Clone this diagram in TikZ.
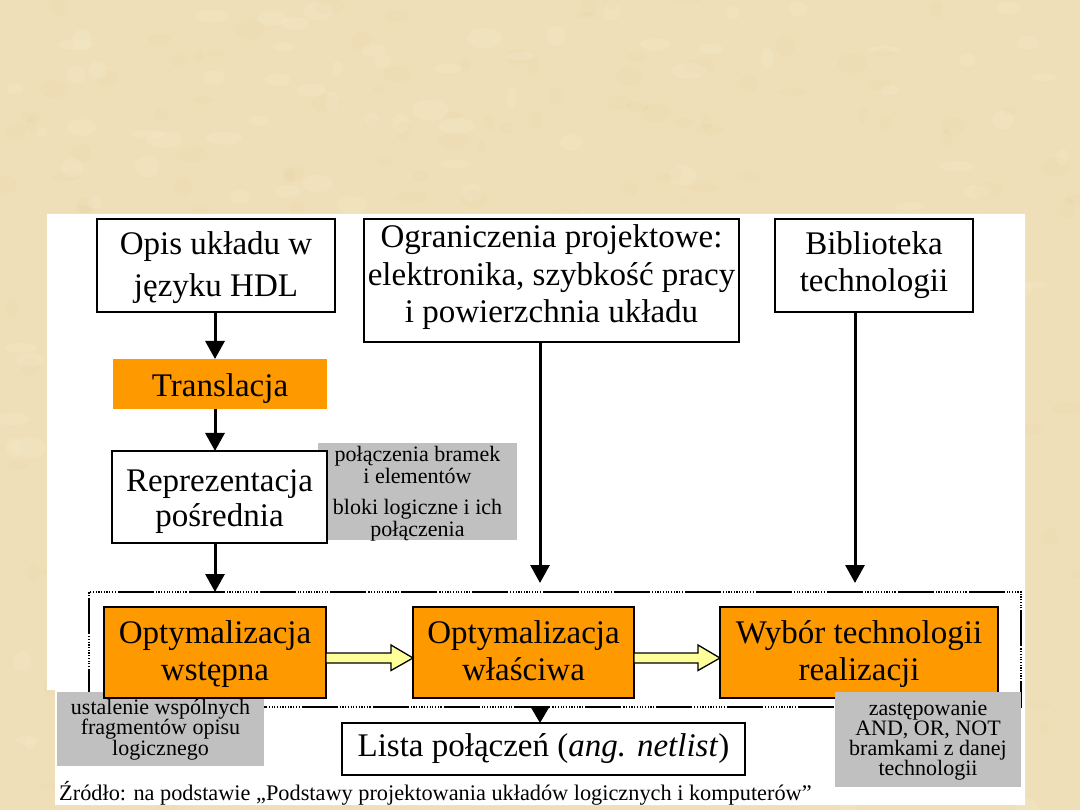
\documentclass[tikz,border=0pt]{standalone}
\usepackage{fontspec}
\setmainfont{Liberation Serif}
\usetikzlibrary{arrows.meta,calc}
\definecolor{parch}{RGB}{239,223,184}
\definecolor{parchd}{RGB}{222,196,145}
\definecolor{parchl}{RGB}{250,241,214}
\definecolor{org}{RGB}{255,153,0}
\definecolor{gr}{RGB}{192,192,192}
\definecolor{yel}{RGB}{255,255,153}
\lineskiplimit=-30pt
\newcommand\mlines[1]{\vtop{\halign{\hfil##\hfil\cr#1\crcr}}}
\begin{document}
\begin{tikzpicture}[x=1pt,y=-1pt,
  box/.style={draw=black,line width=2.8pt,fill=white,inner sep=0pt,outer sep=0pt,text height=0pt,font=\fontsize{33}{37}\selectfont},
  obox/.style={box,fill=org},
  gbox/.style={fill=gr,inner sep=0pt,outer sep=0pt,text height=0pt,font=\fontsize{22}{20}\selectfont},
  arr/.style={line width=3pt,-{Triangle[length=18pt,width=19pt]}},
  arrs/.style={line width=2pt,-{Triangle[length=15pt,width=17pt]}},
  frm/.style={draw=black,line width=2pt,inner sep=0pt,outer sep=0pt,
    dash pattern=on 36pt off 2pt on 1.2pt off 1.5pt on 1.2pt off 1.5pt on 1.2pt off 1.5pt on 1.2pt off 1.5pt on 1.2pt off 1.5pt on 1.2pt off 1.5pt on 1.2pt off 1.5pt on 1.2pt off 1.5pt on 1.2pt off 1.5pt on 1.2pt off 1.5pt on 1.2pt off 1.5pt on 1.2pt off 2pt},
  yarr/.style={draw=black,line width=1.3pt,fill=yel,line join=miter}
]
\useasboundingbox (0,0) rectangle (1080,810);
\fill[parch] (0,0) rectangle (1080,810);
\pgfmathsetseed{7}
\foreach \i in {1,...,260} {
  \fill[parchd,opacity=0.09] (1080*rnd,810*rnd) ellipse ({4+12*rnd} and {3+7*rnd});
}
\foreach \i in {1,...,200} {
  \fill[parchl,opacity=0.18] (1080*rnd,810*rnd) ellipse ({5+14*rnd} and {3+8*rnd});
}
\fill[white] (47,214) -- (1025,214) -- (1025,805) -- (55,805) -- (55,690) -- (47,690) -- cycle;

\coordinate (c1) at (215,0);
\coordinate (c2) at (540,0);
\coordinate (c3) at (855,0);

% top row
\node[box,minimum width=238pt,minimum height=93pt,text depth=21pt,font=\fontsize{33}{42}\selectfont] (opis) at (216,265.5) {\mlines{Opis układu w\cr języku HDL}};
\node[box,minimum width=375pt,minimum height=123pt,text depth=65pt,font=\fontsize{33}{37.5}\selectfont] (ogr) at (551.5,280.5) {\mlines{Ograniczenia projektowe:\cr elektronika, szybkość pracy\cr i powierzchnia układu}};
\node[box,minimum width=198pt,minimum height=93pt,text depth=21pt] (bib) at (874,265.5) {\mlines{Biblioteka\cr technologii}};

\node[fill=org,inner sep=0pt,outer sep=0pt,minimum width=214pt,minimum height=50pt,text height=26pt,text depth=0pt,font=\fontsize{33}{37}\selectfont] (trans) at (220,384) {Translacja};

\node[gbox,minimum width=199pt,minimum height=97pt,text depth=59pt,font=\fontsize{22}{21}\selectfont] (g1) at (417.5,491.5) {\mlines{połączenia bramek\cr i elementów\cr\noalign{\vskip11pt} bloki logiczne i ich\cr połączenia}};
\node[box,minimum width=215pt,minimum height=92pt,text depth=10.6pt,font=\fontsize{33}{35}\selectfont] (rep) at (219.5,497) {\mlines{Reprezentacja\cr pośrednia}};

% frame
\node[frm,minimum width=932pt,minimum height=115pt] (frame) at (555,649.5) {};

\node[gbox,minimum width=207pt,minimum height=74pt,text depth=30pt,font=\fontsize{22}{20.5}\selectfont] (g2) at (160.5,729) {\mlines{ustalenie wspólnych\cr fragmentów opisu\cr logicznego}};

\node[obox,minimum width=222pt,minimum height=91pt,text depth=19pt] (ow) at (215,652.5) {\mlines{Optymalizacja\cr wstępna}};
\node[obox,minimum width=221pt,minimum height=91pt,text depth=19pt] (owl) at (523.5,652.5) {\mlines{Optymalizacja\cr właściwa}};
\node[obox,minimum width=278pt,minimum height=91pt,text depth=19pt] (wyb) at (859,652.5) {\mlines{Wybór technologii\cr realizacji}};

\node[gbox,minimum width=186pt,minimum height=95pt,text depth=49pt] (g3) at (928,739.5) {\mlines{zastępowanie\cr AND, OR, NOT\cr bramkami z danej\cr technologii}};

\node[box,minimum width=403pt,minimum height=52pt,text height=14pt,text depth=0pt] (lista) at (543.5,749) {Lista połączeń (\textit{ang. netlist})};

\node[anchor=base west,inner sep=0pt,font=\fontsize{22.3}{24}\selectfont] (src) at (59,800) {Źródło: na podstawie „Podstawy projektowania układów logicznych i komputerów”};

% connectors
\draw[arr] (opis.south -| c1) -- (trans.north -| c1);
\draw[arr] (trans.south -| c1) -- (rep.north -| c1);
\draw[arr] (rep.south -| c1) -- (frame.north -| c1);
\draw[arr] (ogr.south -| c2) -- ($(frame.north -| c2)+(0,-9)$);
\draw[arr] (bib.south -| c3) -- ($(frame.north -| c3)+(0,-9)$);
\draw[arrs] (frame.south -| c2) -- (lista.north -| c2);

% yellow block arrows
\draw[yarr] ($(ow.east)+(0,0.5)$) -- ($(owl.west)+(-22,0.5)$) -- ($(owl.west)+(-22,-7.5)$) -- ($(owl.west)+(0,5.5)$) -- ($(owl.west)+(-22,18)$) -- ($(owl.west)+(-22,10.5)$) -- ($(ow.east)+(0,10.5)$) -- cycle;
\draw[yarr] ($(owl.east)+(0,0.5)$) -- ($(wyb.west)+(-22,0.5)$) -- ($(wyb.west)+(-22,-7.5)$) -- ($(wyb.west)+(0,5.5)$) -- ($(wyb.west)+(-22,18)$) -- ($(wyb.west)+(-22,10.5)$) -- ($(owl.east)+(0,10.5)$) -- cycle;
\end{tikzpicture}
\end{document}
